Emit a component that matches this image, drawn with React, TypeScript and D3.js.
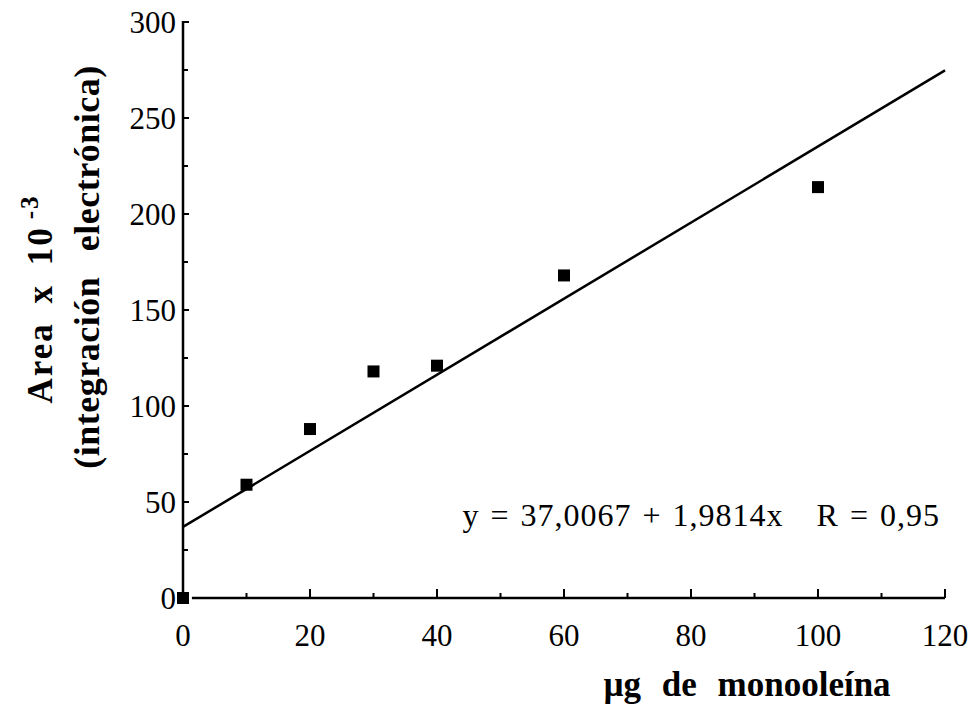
import { useEffect, useRef } from "react";
import * as d3 from "d3";

const xValues = [0, 10, 20, 30, 40, 60, 100];
const yValues = [0, 59, 88, 118, 121, 168, 214];
const xTicks = [0, 20, 40, 60, 80, 100, 120];
const yTicks = [0, 50, 100, 150, 200, 250, 300];
const intercept = 37.0067;
const slope = 1.9814;

const W = 971;
const H = 704;
const FONT = "'Liberation Serif', 'Times New Roman', serif";

export default function App() {
  const ref = useRef<SVGSVGElement>(null);

  useEffect(() => {
    document.body.style.margin = "0";
    document.body.style.overflow = "hidden";
    const svg = d3.select(ref.current);
    svg.selectAll("*").remove();

    const margin = { top: 22, right: 26, bottom: 106, left: 183 };
    const x = d3.scaleLinear().domain([0, 120]).range([margin.left, W - margin.right]);
    const y = d3.scaleLinear().domain([0, 300]).range([H - margin.bottom, margin.top]);

    // y axis line + inward ticks
    svg.append("line")
      .attr("x1", x(0)).attr("x2", x(0))
      .attr("y1", y(300) - 1).attr("y2", y(0))
      .attr("stroke", "#000").attr("stroke-width", 2.5);
    d3.range(0, 301, 25).forEach(v => {
      svg.append("line")
        .attr("x1", x(0)).attr("x2", x(0) + (v % 50 === 0 ? 6 : 5))
        .attr("y1", y(v)).attr("y2", y(v))
        .attr("stroke", "#000").attr("stroke-width", 2);
    });

    // x axis line + upward ticks
    svg.append("line")
      .attr("x1", x(1.4)).attr("x2", x(120))
      .attr("y1", y(0)).attr("y2", y(0))
      .attr("stroke", "#000").attr("stroke-width", 2.5);
    d3.range(10, 121, 10).forEach(v => {
      svg.append("line")
        .attr("x1", x(v)).attr("x2", x(v))
        .attr("y1", y(0)).attr("y2", y(0) - (v % 20 === 0 ? 9 : 5))
        .attr("stroke", "#000").attr("stroke-width", 2);
    });

    // tick labels
    svg.selectAll(".ylab").data(yTicks).enter().append("text")
      .attr("x", x(0) - 7).attr("y", d => y(d) + 11)
      .attr("text-anchor", "end")
      .style("font-family", FONT).style("font-size", "31px")
      .text(d => d);
    svg.selectAll(".xlab").data(xTicks).enter().append("text")
      .attr("x", d => x(d)).attr("y", y(0) + 48)
      .attr("text-anchor", "middle")
      .style("font-family", FONT).style("font-size", "31px")
      .text(d => d);

    // regression line
    svg.append("line")
      .attr("x1", x(0)).attr("y1", y(intercept))
      .attr("x2", x(120)).attr("y2", y(intercept + slope * 120))
      .attr("stroke", "#000").attr("stroke-width", 2.5);

    // points
    const s = 12;
    svg.selectAll(".pt").data(xValues.map((d, i) => [d, yValues[i]])).enter().append("rect")
      .attr("x", d => x(d[0]) - s / 2).attr("y", d => y(d[1]) - s / 2)
      .attr("width", s).attr("height", s).attr("fill", "#000");

    // equation
    svg.append("text")
      .attr("x", 940).attr("y", 526)
      .attr("text-anchor", "end")
      .attr("xml:space", "preserve")
      .style("font-family", FONT).style("font-size", "32px")
      .style("letter-spacing", "1px").style("word-spacing", "2px")
      .style("white-space", "pre")
      .text("y = 37,0067 + 1,9814x   R = 0,95");

    // x title
    svg.append("text")
      .attr("x", 747).attr("y", 696)
      .attr("text-anchor", "middle")
      .style("font-family", FONT).style("font-size", "35px").style("font-weight", "bold")
      .style("word-spacing", "12px")
      .text("µg de monooleína");

    // y title (two lines)
    const t1 = svg.append("text")
      .attr("transform", "translate(52,299) rotate(-90)")
      .attr("text-anchor", "middle")
      .style("font-family", FONT).style("font-size", "35px").style("font-weight", "bold")
      .style("letter-spacing", "2px").style("word-spacing", "8px");
    t1.append("tspan").text("Area x 10");
    t1.append("tspan").attr("dx", 7).attr("dy", -14).style("font-size", "25px").text("-3");

    svg.append("text")
      .attr("transform", "translate(99,267) rotate(-90)")
      .attr("text-anchor", "middle")
      .style("font-family", FONT).style("font-size", "36px").style("font-weight", "bold")
      .style("letter-spacing", "0.5px").style("word-spacing", "16px")
      .text("(integración electrónica)");
  }, []);

  return <svg ref={ref} width={W} height={H} style={{ display: "block", background: "#fff" }} />;
}
